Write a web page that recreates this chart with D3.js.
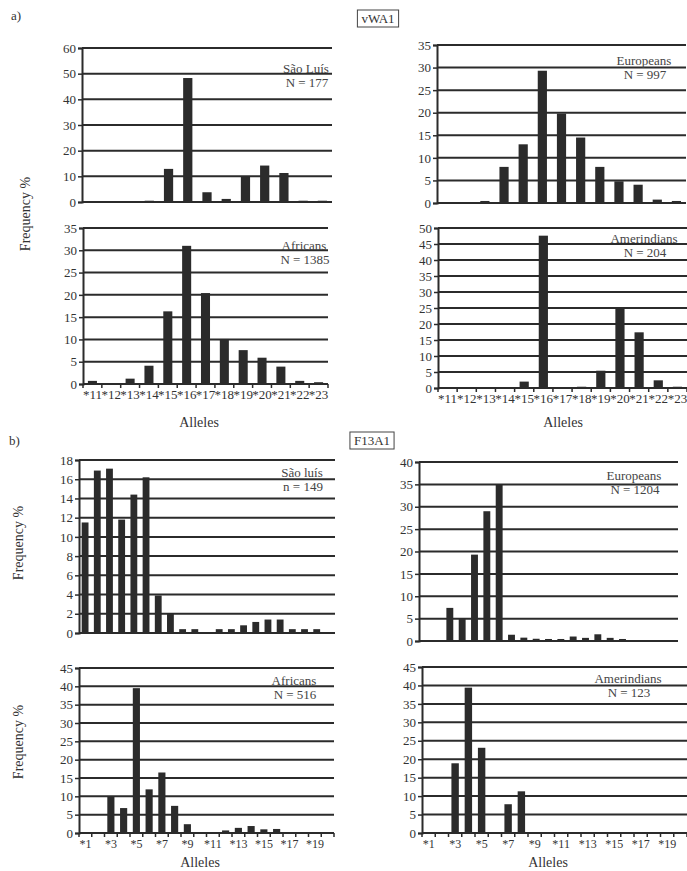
<!DOCTYPE html>
<html>
<head>
<meta charset="utf-8">
<script src="https://cdn.jsdelivr.net/npm/d3@7"></script>
<style>
html,body{margin:0;padding:0;background:#fff;}
svg{display:block;font-family:"Liberation Serif","Times New Roman",serif;}
</style>
</head>
<body>
<svg id="chart" width="687" height="871"></svg>
<script>
// ---------- data ----------
const vwaAlleles = ["*11","*12","*13","*14","*15","*16","*17","*18","*19","*20","*21","*22","*23"];
const vwaSaoLuis     = [0, 0, 0, 0.5, 12.9, 48.3, 3.8, 1.2, 10, 14.2, 11.3, 0.5, 0.5];
const vwaEuropeans   = [0, 0, 0.45, 8, 13, 29.3, 19.8, 14.5, 8, 4.8, 4.05, 0.75, 0.45];
const vwaAfricans    = [0.7, 0, 1.2, 4.1, 16.3, 31, 20.4, 10.1, 7.6, 5.9, 3.9, 0.7, 0.4];
const vwaAmerindians = [0, 0, 0, 0, 2, 47.6, 0, 0.4, 5.4, 24.8, 17.4, 2.4, 0.4];

const f13Alleles = ["*1","*2","*3","*4","*5","*6","*7","*8","*9","*10","*11","*12","*13","*14","*15","*16","*17","*18","*19","*20"];
const f13TickLabels = ["*1","*3","*5","*7","*9","*11","*13","*15","*17","*19"];
const f13SaoLuis     = [11.5, 16.9, 17.1, 11.8, 14.4, 16.2, 3.9, 2, 0.4, 0.4, 0, 0.4, 0.4, 0.8, 1.15, 1.4, 1.4, 0.4, 0.4, 0.4];
const f13Europeans   = [0, 0, 7.4, 4.9, 19.3, 29, 35, 1.4, 0.75, 0.5, 0.45, 0.45, 1, 0.7, 1.5, 0.7, 0.45, 0, 0, 0];
const f13Africans    = [0, 0, 9.9, 6.8, 39.5, 11.9, 16.5, 7.4, 2.4, 0, 0, 0.7, 1.4, 1.9, 1.0, 1.1, 0, 0, 0, 0];
const f13Amerindians = [0, 0, 18.9, 39.4, 23.1, 0, 7.8, 11.3, 0, 0, 0, 0, 0, 0, 0, 0, 0, 0, 0, 0];

// ---------- layout ----------
const svg = d3.select("#chart");
const ink = "#2b2b2b";

const panels = [
  {cats: vwaAlleles, vals: vwaSaoLuis, left: 82, right: 332, top: 48, bottom: 202, max: 60, step: 10,
   l1: "São Luís", l2: "N = 177", lx: 306, ly: 69, bands: 13, labels: null},
  {cats: vwaAlleles, vals: vwaEuropeans, left: 437, right: 686, top: 45, bottom: 203, max: 35, step: 5,
   l1: "Europeans", l2: "N = 997", lx: 644, ly: 61, bands: 13, labels: null},
  {cats: vwaAlleles, vals: vwaAfricans, left: 83, right: 328, top: 228, bottom: 384, max: 35, step: 5,
   l1: "Africans", l2: "N = 1385", lx: 304, ly: 246, bands: 13, labels: vwaAlleles, lfs: 13},
  {cats: vwaAlleles, vals: vwaAmerindians, left: 438, right: 687, top: 228, bottom: 388, max: 50, step: 5,
   l1: "Amerindians", l2: "N = 204", lx: 644, ly: 239, bands: 13, labels: vwaAlleles, lfs: 13},
  {cats: f13Alleles, vals: f13SaoLuis, left: 79, right: 335, top: 460, bottom: 633, max: 18, step: 2,
   l1: "São luís", l2: "n = 149", lx: 302, ly: 473, bands: 21, labels: null},
  {cats: f13Alleles, vals: f13Europeans, left: 419, right: 678, top: 462, bottom: 641, max: 40, step: 5,
   l1: "Europeans", l2: "N = 1204", lx: 634, ly: 476, bands: 21, labels: null},
  {cats: f13Alleles, vals: f13Africans, left: 79, right: 334, top: 668, bottom: 833, max: 45, step: 5,
   l1: "Africans", l2: "N = 516", lx: 294, ly: 681, bands: 20, labels: f13TickLabels, lfs: 12},
  {cats: f13Alleles, vals: f13Amerindians, left: 422, right: 687, top: 667, bottom: 833, max: 45, step: 5,
   l1: "Amerindians", l2: "N = 123", lx: 628, ly: 679, bands: 20, labels: f13TickLabels, lfs: 12}
];

panels.forEach(p => {
  const g = svg.append("g");
  const bandEnd = p.left + (p.right - p.left) * p.cats.length / p.bands;
  const x = d3.scaleBand().domain(p.cats).range([p.left, bandEnd]).paddingInner(0.52).paddingOuter(0.26);
  if (p.cats.length > 13) x.paddingInner(0.44).paddingOuter(0.22);
  const y = d3.scaleLinear().domain([0, p.max]).range([p.bottom, p.top]);
  const ticks = d3.range(0, p.max + p.step / 2, p.step);

  // gridlines
  g.selectAll("line.grid").data(ticks).join("line")
    .attr("x1", p.left).attr("x2", p.right)
    .attr("y1", d => y(d)).attr("y2", d => y(d))
    .attr("stroke", ink).attr("stroke-width", 2);

  // y axis
  const ya = d3.axisLeft(y).tickValues(ticks).tickSize(4).tickPadding(2).tickFormat(d3.format("d"));
  const yg = g.append("g").attr("transform", `translate(${p.left},0)`).call(ya);
  yg.select(".domain").attr("stroke", ink).attr("stroke-width", 2);
  yg.selectAll(".tick line").attr("stroke", ink).attr("stroke-width", 1.5);
  yg.selectAll("text").attr("font-size", 13).attr("fill", "#333")
    .attr("font-family", "Liberation Serif, serif");

  // bars
  g.selectAll("rect.bar").data(p.cats.map((c, i) => ({c, v: p.vals[i]})).filter(d => d.v > 0))
    .join("rect")
    .attr("x", d => x(d.c)).attr("width", x.bandwidth())
    .attr("y", d => y(d.v)).attr("height", d => y(0) - y(d.v))
    .attr("fill", ink);

  // x ticks at band boundaries (bottom panels)
  if (p.labels) {
    const step = x.step();
    const bounds = d3.range(0, p.cats.length + 1).map(i => p.left + i * step);
    g.selectAll("line.xt").data(bounds).join("line")
      .attr("x1", d => d).attr("x2", d => d)
      .attr("y1", p.bottom).attr("y2", p.bottom + 4)
      .attr("stroke", ink).attr("stroke-width", 1.5);
    g.selectAll("text.xl").data(p.labels).join("text")
      .attr("x", d => x(d) + x.bandwidth() / 2)
      .attr("y", p.bottom + 15)
      .attr("text-anchor", "middle")
      .attr("font-size", p.lfs).attr("fill", "#333")
      .text(d => d);
  }

  // panel label
  g.append("text").attr("x", p.lx).attr("y", p.ly + 4).attr("text-anchor", "middle")
    .attr("font-size", 13).attr("fill", "#444").text(p.l1);
  g.append("text").attr("x", p.lx + 1).attr("y", p.ly + 18).attr("text-anchor", "middle")
    .attr("font-size", 13).attr("fill", "#444").text(p.l2);
});

// ---------- titles and axis titles ----------
function txt(x, y, s, size, anchor, rot) {
  const t = svg.append("text").attr("x", x).attr("y", y).attr("font-size", size)
    .attr("fill", "#333").attr("text-anchor", anchor || "start").text(s);
  if (rot) t.attr("transform", `rotate(-90,${x},${y})`);
  return t;
}
txt(11, 20, "a)", 13);
txt(9, 445, "b)", 13);

function boxed(cx, cy, s) {
  const t = txt(cx, cy + 5, s, 13, "middle");
  const bb = t.node().getBBox();
  svg.append("rect").attr("x", bb.x - 4).attr("y", cy - 8).attr("width", bb.width + 8).attr("height", 17)
    .attr("fill", "none").attr("stroke", "#444").attr("stroke-width", 1);
}
boxed(378, 18, "vWA1");
boxed(372, 440, "F13A1");

txt(30, 214, "Frequency %", 14, "middle", true);
txt(23, 543, "Frequency %", 14, "middle", true);
txt(23, 742, "Frequency %", 14, "middle", true);

txt(199, 427, "Alleles", 14, "middle");
txt(563, 427, "Alleles", 14, "middle");
txt(200, 867, "Alleles", 14, "middle");
txt(548, 867, "Alleles", 14, "middle");
</script>
</body>
</html>
